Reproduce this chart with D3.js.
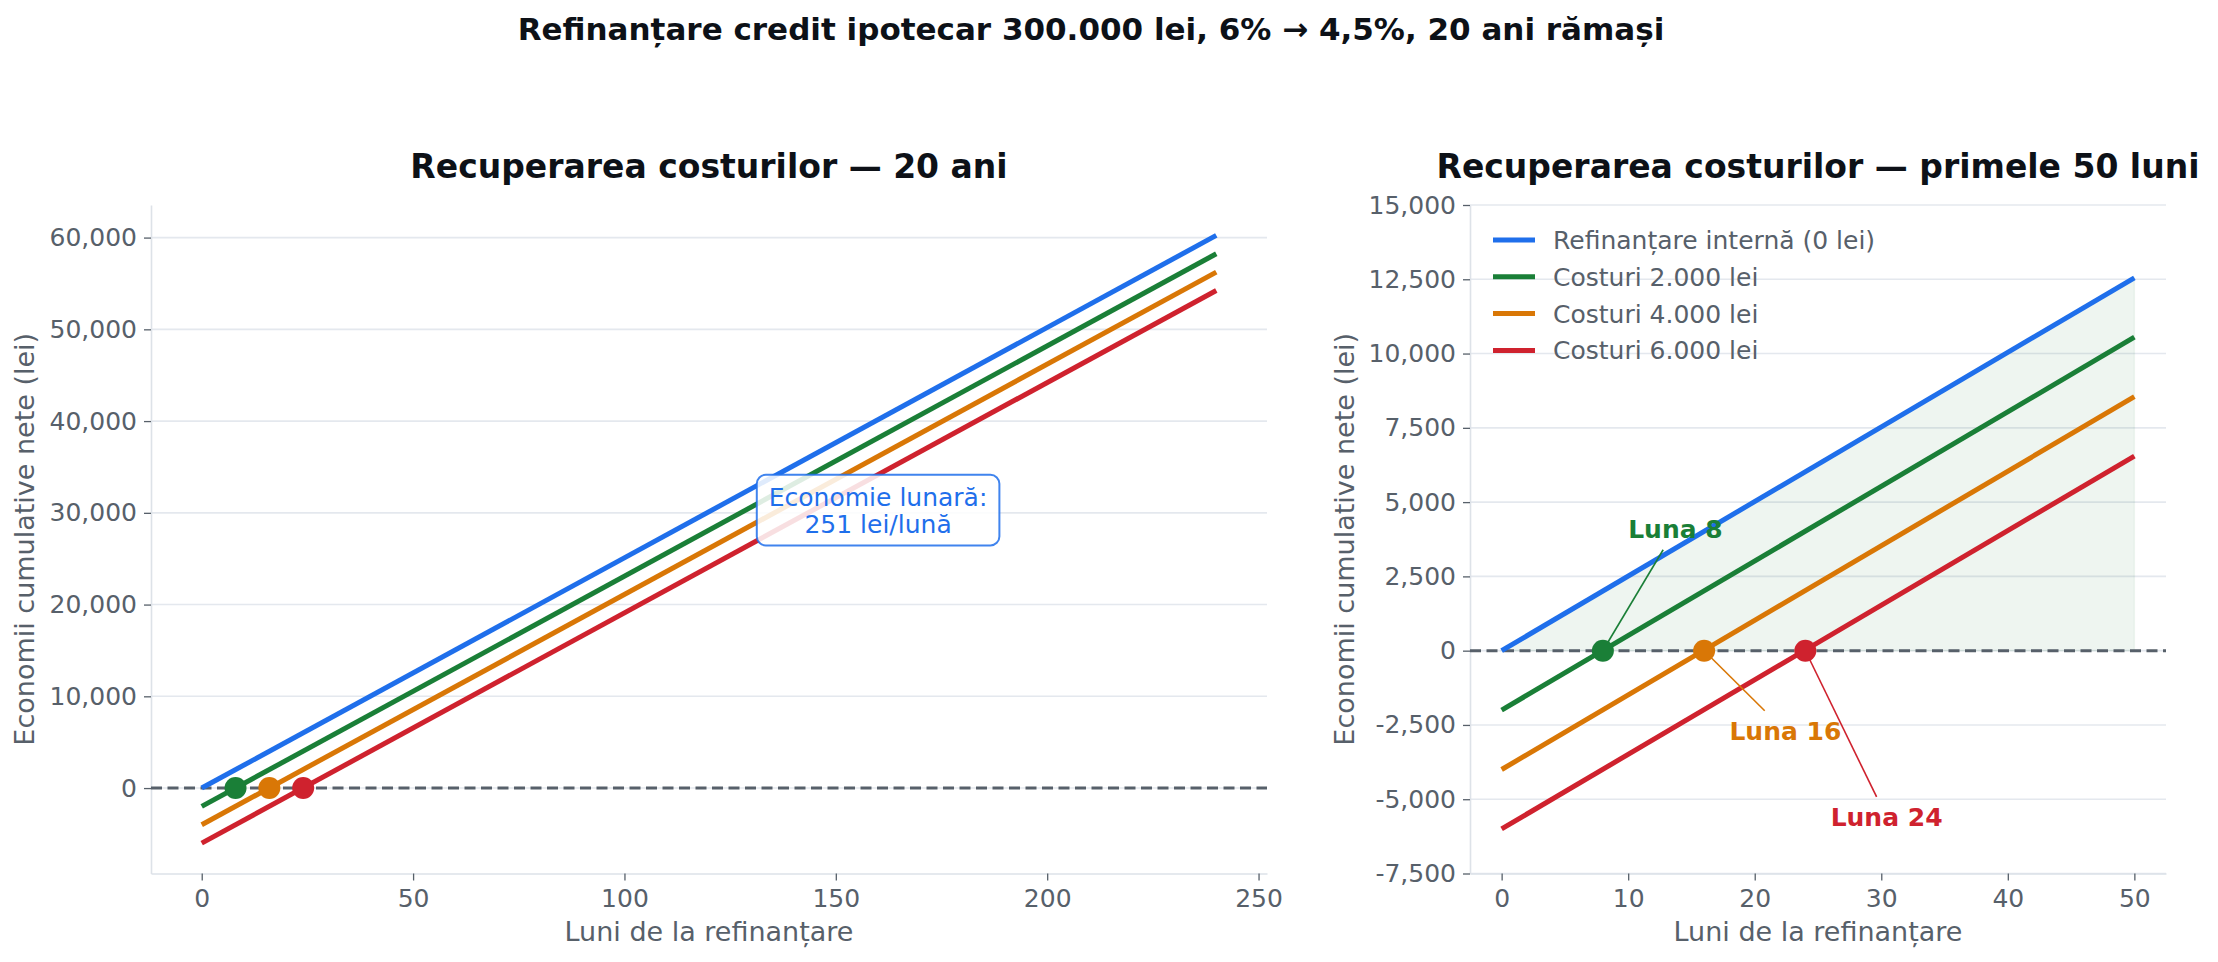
<!DOCTYPE html>
<html>
<head>
<meta charset="utf-8">
<script src="https://cdn.jsdelivr.net/npm/d3@7"></script>
<style>
  body { margin: 0; background: #fff; }
  svg { display: block; font-family: "DejaVu Sans", sans-serif; }
</style>
</head>
<body>
<div id="chart"></div>
<script>
var W = 2218, H = 962;

// data (all four lines are straight, so the endpoints are enough)
var seriesNames = ["Refinanțare internă (0 lei)", "Costuri 2.000 lei", "Costuri 4.000 lei", "Costuri 6.000 lei"];
var colors = ["#1f6feb", "#1a7f37", "#d97706", "#cf222e"];
var monthsLong = [0, 240];
var valuesLong = [[0, 60240], [-2000, 58240], [-4000, 56240], [-6000, 54240]];
var monthsShort = [0, 50];
var valuesShort = [[0, 12550], [-2000, 10550], [-4000, 8550], [-6000, 6550]];
var breakEvenMonths = [8, 16, 24];
var breakEvenLabels = ["Luna 8", "Luna 16", "Luna 24"];
var breakEvenTextAt = [[10, 3800], [18, -3000], [26, -5900]];
var xTicksLong = [0, 50, 100, 150, 200, 250];
var yTicksLong = [0, 10000, 20000, 30000, 40000, 50000, 60000];
var xTicksShort = [0, 10, 20, 30, 40, 50];
var yTicksShort = [-7500, -5000, -2500, 0, 2500, 5000, 7500, 10000, 12500, 15000];
var savingNote = ["Economie lunară:", "251 lei/lună"];
var savingNoteAt = [160, 30000];

var textGrey = "#57606a",
    gridColor = "#e4e8ee",
    spineColor = "#dde2e8",
    titleColor = "#0d1117";

var fmt = d3.formatLocale({decimal: ".", thousands: ",", grouping: [3], currency: ["", ""], minus: "-"}).format(",");

var svg = d3.select("#chart").append("svg")
    .attr("width", W)
    .attr("height", H);

svg.append("rect").attr("width", W).attr("height", H).attr("fill", "#fff");

svg.append("text")
    .attr("x", 1091).attr("y", 40)
    .attr("text-anchor", "middle")
    .attr("font-size", 31).attr("font-weight", "bold")
    .attr("fill", titleColor)
    .text("Refinanțare credit ipotecar 300.000 lei, 6% → 4,5%, 20 ani rămași");

function drawPanel(p) {
  var x = d3.scaleLinear().domain(p.xDomain).range([p.left, p.right]),
      y = d3.scaleLinear().domain(p.yDomain).range([p.bottom, p.top]);
  var g = svg.append("g");

  // grid
  g.selectAll("line.grid")
      .data(p.yTicks)
    .enter().append("line")
      .attr("class", "grid")
      .attr("x1", p.left).attr("x2", p.right)
      .attr("y1", function(d) { return y(d); })
      .attr("y2", function(d) { return y(d); })
      .attr("stroke", gridColor)
      .attr("stroke-width", 1.6);

  // axes
  var ax = g.append("g")
      .attr("transform", "translate(0," + p.bottom + ")")
      .call(d3.axisBottom(x).tickValues(p.xTicks).tickSize(7).tickPadding(9).tickSizeOuter(0));
  var ay = g.append("g")
      .attr("transform", "translate(" + p.left + ",0)")
      .call(d3.axisLeft(y).tickValues(p.yTicks).tickFormat(fmt).tickSize(7).tickPadding(7).tickSizeOuter(0));
  [ax, ay].forEach(function(a) {
    a.attr("font-family", null).attr("font-size", null);
    a.select(".domain").attr("stroke", spineColor).attr("stroke-width", 1.6);
    a.selectAll(".tick line").attr("stroke", textGrey).attr("stroke-width", 1.3);
    a.selectAll(".tick text").attr("fill", textGrey).attr("font-size", 25);
  });

  g.append("text")
      .attr("x", (p.left + p.right) / 2).attr("y", 941)
      .attr("text-anchor", "middle")
      .attr("font-size", 27).attr("fill", textGrey)
      .text("Luni de la refinanțare");

  g.append("text")
      .attr("transform", "translate(" + p.yLabelX + "," + (p.top + p.bottom) / 2 + ")rotate(-90)")
      .attr("text-anchor", "middle")
      .attr("font-size", 27).attr("fill", textGrey)
      .text("Economii cumulative nete (lei)");

  g.append("text")
      .attr("x", (p.left + p.right) / 2).attr("y", 178)
      .attr("text-anchor", "middle")
      .attr("font-size", 33).attr("font-weight", "bold")
      .attr("fill", titleColor)
      .text(p.title);

  if (p.fill) {
    var area = d3.area()
        .x(function(d, i) { return x(p.months[i]); })
        .y0(y(0))
        .y1(function(d) { return y(d); });
    g.append("path")
        .attr("d", area(p.values[0]))
        .attr("fill", colors[1])
        .attr("fill-opacity", 0.075)
        .attr("stroke", colors[1])
        .attr("stroke-opacity", 0.06)
        .attr("stroke-width", 1.5);
  }

  // break-even line
  g.append("line")
      .attr("x1", p.left).attr("x2", p.right)
      .attr("y1", y(0)).attr("y2", y(0))
      .attr("stroke", "#57606a")
      .attr("stroke-width", 3)
      .attr("stroke-dasharray", "11,5.5");

  var line = d3.line()
      .x(function(d, i) { return x(p.months[i]); })
      .y(function(d) { return y(d); });

  g.selectAll("path.series")
      .data(p.values)
    .enter().append("path")
      .attr("class", "series")
      .attr("d", line)
      .attr("fill", "none")
      .attr("stroke", function(d, i) { return colors[i]; })
      .attr("stroke-width", 5);

  var leaders = g.append("g");

  g.selectAll("circle.be")
      .data(breakEvenMonths)
    .enter().append("circle")
      .attr("class", "be")
      .attr("cx", function(d) { return x(d); })
      .attr("cy", y(0))
      .attr("r", 11)
      .attr("fill", function(d, i) { return colors[i + 1]; });

  return {x: x, y: y, g: g, leaders: leaders};
}

var left = drawPanel({
  left: 151, right: 1267, top: 205, bottom: 873.5,
  xDomain: [-12, 252], yDomain: [-9312, 63552],
  xTicks: xTicksLong, yTicks: yTicksLong,
  months: monthsLong, values: valuesLong,
  yLabelX: 34,
  title: "Recuperarea costurilor — 20 ani"
});

var right = drawPanel({
  left: 1470, right: 2166, top: 205, bottom: 873.5,
  xDomain: [-2.5, 52.5], yDomain: [-7500, 15000],
  xTicks: xTicksShort, yTicks: yTicksShort,
  months: monthsShort, values: valuesShort,
  yLabelX: 1354,
  fill: true,
  title: "Recuperarea costurilor — primele 50 luni"
});

// monthly saving note on the left panel
var note = left.g.append("g");
var noteBox = note.append("rect");
var noteText = note.append("text")
    .attr("text-anchor", "middle")
    .attr("font-size", 25)
    .attr("fill", colors[0]);
noteText.selectAll("tspan")
    .data(savingNote)
  .enter().append("tspan")
    .attr("x", left.x(savingNoteAt[0]))
    .attr("y", function(d, i) { return left.y(savingNoteAt[1]) - 7 + i * 27.6; })
    .text(function(d) { return d; });
var nb = noteText.node().getBBox();
noteBox
    .attr("x", nb.x - 12).attr("y", nb.y - 8)
    .attr("width", nb.width + 24).attr("height", nb.height + 14)
    .attr("rx", 9)
    .attr("fill", "#fff").attr("fill-opacity", 0.86)
    .attr("stroke", colors[0]).attr("stroke-opacity", 0.85)
    .attr("stroke-width", 2);

// legend on the right panel
var legend = right.g.append("g");
var rows = legend.selectAll("g")
    .data(seriesNames)
  .enter().append("g")
    .attr("transform", function(d, i) { return "translate(1493," + (240 + i * 36.8) + ")"; });
rows.append("line")
    .attr("x1", 0).attr("x2", 42)
    .attr("stroke", function(d, i) { return colors[i]; })
    .attr("stroke-width", 5);
rows.append("text")
    .attr("x", 60).attr("y", 9)
    .attr("font-size", 25)
    .attr("fill", textGrey)
    .text(function(d) { return d; });

// break-even labels with leader lines
breakEvenMonths.forEach(function(m, i) {
  var px = right.x(m), py = right.y(0);
  var t = right.g.append("text")
      .attr("x", right.x(breakEvenTextAt[i][0]))
      .attr("y", right.y(breakEvenTextAt[i][1]))
      .attr("font-size", 25).attr("font-weight", "bold")
      .attr("fill", colors[i + 1])
      .text(breakEvenLabels[i]);
  var b = t.node().getBBox(), pad = 6;
  var cx = b.x + b.width / 2, cy = b.y + b.height / 2;
  var dx = cx - px, dy = cy - py;
  // stop the leader at the (padded) edge of the label
  var hw = b.width / 2 + pad, hh = b.height / 2 + pad;
  var s = Math.min(hw / Math.abs(dx || 1e-9), hh / Math.abs(dy || 1e-9));
  var ex = cx - dx * s, ey = cy - dy * s;
  var len = Math.sqrt(dx * dx + dy * dy);
  right.leaders.append("line")
      .attr("x1", px + dx / len * 4).attr("y1", py + dy / len * 4)
      .attr("x2", ex).attr("y2", ey)
      .attr("stroke", colors[i + 1])
      .attr("stroke-width", 1.6);
});
</script>
</body>
</html>
